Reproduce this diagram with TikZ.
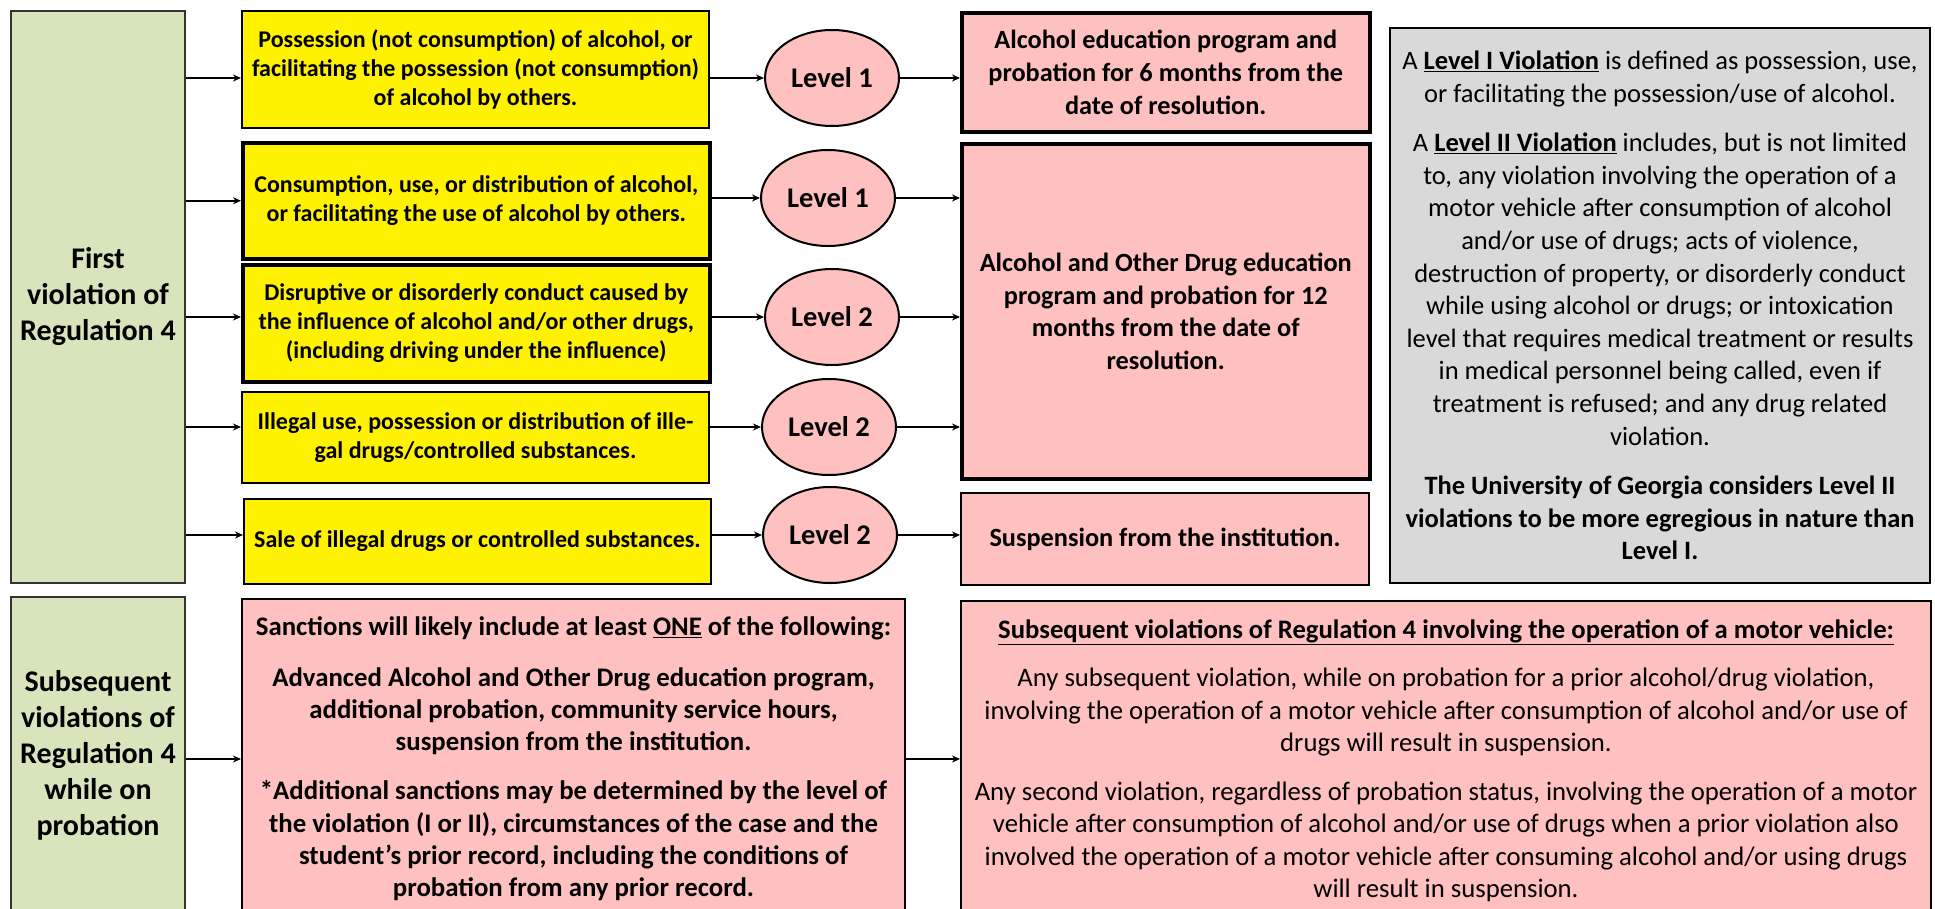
\documentclass[tikz,border=0pt]{standalone}
\usepackage{fontspec}
\setmainfont{Carlito}
\usepackage{tikz}
\usetikzlibrary{arrows.meta,shapes.geometric}
\definecolor{regreen}{RGB}{216,228,188}
\definecolor{repink}{RGB}{255,192,192}
\definecolor{regrey}{RGB}{217,217,217}

\begin{document}
\begin{tikzpicture}[x=1pt,y=-1pt,
box/.style={draw, line width=2pt, inner sep=0pt, align=center, anchor=north west},
heavy/.style={line width=3.5pt},
greenbox/.style={box, fill=regreen, draw=black!80, font=\fontsize{30}{36}\selectfont\bfseries},
yellowbox/.style={box, fill=yellow, font=\fontsize{24}{29.3}\selectfont\bfseries},
pinkbox/.style={box, fill=repink, font=\fontsize{26.3}{32.6}\selectfont\bfseries},
greybox/.style={box, fill=regrey, font=\fontsize{26.5}{32.6}\selectfont},
level/.style={ellipse, draw, line width=2pt, fill=repink, minimum width=134, minimum height=96, inner sep=0pt, font=\fontsize{28.5}{32}\selectfont\bfseries},
arr/.style={-{Stealth[length=8pt,width=7pt]}, line width=2pt}]
\useasboundingbox[fill=white] (0,0) rectangle (1935,908);

\node[greenbox, minimum width=174, minimum height=572] (first) at (10,10) {First\\violation of\\Regulation 4};
\node[greenbox, minimum width=174, minimum height=316] (later) at (10,596) {Subsequent\\violations of\\Regulation 4\\while on\\probation};

\node[yellowbox, minimum width=467, minimum height=117] (poss) at (241,10) {Possession (not consumption) of alcohol, or\\facilitating the possession (not consumption)\\of alcohol by others.};
\node[yellowbox, heavy, minimum width=467, minimum height=116] (cons) at (241,141) {Consumption, use, or distribution of alcohol,\\or facilitating the use of alcohol by others.};
\node[yellowbox, heavy, minimum width=467, minimum height=117] (disr) at (241,263) {Disruptive or disorderly conduct caused by\\the influence of alcohol and/or other drugs,\\(including driving under the influence)};
\node[yellowbox, minimum width=467, minimum height=91] (illeg) at (241,391) {Illegal use, possession or distribution of ille-\\gal drugs/controlled substances.};
\node[yellowbox, minimum width=467, minimum height=85] (sale) at (243,498) {Sale of illegal drugs or controlled substances.};

\node[level] (lvA) at (832,78) {Level 1};
\node[level] (lvB) at (828,198) {Level 1};
\node[level] (lvC) at (832,317) {Level 2};
\node[level] (lvD) at (829,427) {Level 2};
\node[level] (lvE) at (830,535) {Level 2};

\node[pinkbox, heavy, minimum width=408, minimum height=119] (sixmonth) at (960,11) {Alcohol education program and\\probation for 6 months from the\\date of resolution.};
\node[pinkbox, heavy, minimum width=408, minimum height=335] (twelvemonth) at (960,142) {Alcohol and Other Drug education\\program and probation for 12\\months from the date of\\resolution.};
\node[pinkbox, minimum width=408, minimum height=92] (susp) at (960,492) {Suspension from the institution.};

\node[greybox, minimum width=540, minimum height=555] (levels) at (1389,27) {A \underline{\textbf{Level I Violation}} is defined as possession, use,\\or facilitating the possession/use of alcohol.\\[17pt]A \underline{\textbf{Level II Violation}} includes, but is not limited\\to, any violation involving the operation of a\\motor vehicle after consumption of alcohol\\and/or use of drugs; acts of violence,\\destruction of property, or disorderly conduct\\while using alcohol or drugs; or intoxication\\level that requires medical treatment or results\\in medical personnel being called, even if\\treatment is refused; and any drug related\\violation.\\[17pt]\textbf{The University of Georgia considers Level II}\\\textbf{violations to be more egregious in nature than}\\\textbf{Level I.}};

\node[pinkbox, font=\fontsize{26.8}{32.3}\selectfont\bfseries, minimum width=663, minimum height=320] (sanct) at (241,598) {Sanctions will likely include at least \underline{ONE} of the following:\\[18pt]Advanced Alcohol and Other Drug education program,\\additional probation, community service hours,\\suspension from the institution.\\[17pt]*Additional sanctions may be determined by the level of\\the violation (I or II), circumstances of the case and the\\student’s prior record, including the conditions of\\probation from any prior record.};
\node[greybox, fill=repink, font=\fontsize{26.7}{32.5}\selectfont, minimum width=970, minimum height=320] (motor) at (960,600) {\underline{\textbf{Subsequent violations of Regulation 4 involving the operation of a motor vehicle:}}\\[16pt]Any subsequent violation, while on probation for a prior alcohol/drug violation,\\involving the operation of a motor vehicle after consumption of alcohol and/or use of\\drugs will result in suspension.\\[16pt]Any second violation, regardless of probation status, involving the operation of a motor\\vehicle after consumption of alcohol and/or use of drugs when a prior violation also\\involved the operation of a motor vehicle after consuming alcohol and/or using drugs\\will result in suspension.};

\draw[arr] (first.east |- lvA) -- (poss.west |- lvA);
\draw[arr] (first.east |- cons.west) -- (cons.west);
\draw[arr] (first.east |- lvC) -- (disr.west |- lvC);
\draw[arr] (first.east |- lvD) -- (illeg.west |- lvD);
\draw[arr] (first.east |- lvE) -- (sale.west |- lvE);

\draw[arr] (poss.east |- lvA) -- (lvA);
\draw[arr] (cons.east |- lvB) -- (lvB);
\draw[arr] (disr.east |- lvC) -- (lvC);
\draw[arr] (illeg.east |- lvD) -- (lvD);
\draw[arr] (sale.east |- lvE) -- (lvE);

\draw[arr] (lvA) -- (sixmonth.west |- lvA);
\draw[arr] (lvB) -- (twelvemonth.west |- lvB);
\draw[arr] (lvC) -- (twelvemonth.west |- lvC);
\draw[arr] (lvD) -- (twelvemonth.west |- lvD);
\draw[arr] (lvE) -- (susp.west |- lvE);

\draw[arr] (later.east |- sanct.west) -- (sanct.west);
\draw[arr] (sanct.east) -- (motor.west |- sanct.east);
\end{tikzpicture}
\end{document}
